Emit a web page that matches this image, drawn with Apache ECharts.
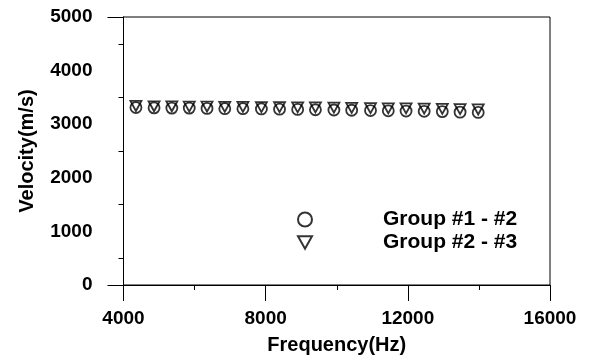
<!DOCTYPE html>
<html>
<head>
<meta charset="utf-8">
<script src="https://cdn.jsdelivr.net/npm/echarts@6/dist/echarts.min.js"></script>
<style>
  html, body { margin: 0; padding: 0; background: #fff; }
  #chart { width: 590px; height: 363px; }
</style>
</head>
<body>
<div id="chart"></div>
<script>
// Measured frequencies (Hz)
const frequency = [4350, 4860, 5360, 5850, 6350, 6850, 7360, 7880, 8390, 8900,
                   9400, 9920, 10420, 10950, 11450, 11950, 12460, 12970, 13470, 13980];
// Velocity between group #1 and #2 (m/s)
const group12 = [3310, 3305, 3300, 3300, 3295, 3290, 3290, 3285, 3280, 3275,
                 3270, 3265, 3260, 3255, 3250, 3245, 3240, 3235, 3225, 3220];
// Velocity between group #2 and #3 (m/s)
const group23 = [3340, 3335, 3335, 3330, 3330, 3325, 3325, 3320, 3320, 3315,
                 3315, 3310, 3305, 3300, 3295, 3295, 3290, 3285, 3280, 3275];
const seriesNames = ['Group #1 - #2', 'Group #2 - #3'];
const xTicks = [4000, 8000, 12000, 16000];
const yTicks = [0, 1000, 2000, 3000, 4000, 5000];

const FONT = "'Liberation Sans', Arial, Helvetica, sans-serif";
const downTriangle = 'path://M0,0 L10,0 L5,9 Z';
const plain = v => String(v);

const pairs = (xs, ys) => xs.map((x, i) => [x, ys[i]]);

const chart = echarts.init(document.getElementById('chart'), null, { renderer: 'canvas' });
chart.setOption({
  animation: false,
  backgroundColor: '#fff',
  grid: {
    left: 123.5, right: 40, top: 17, bottom: 78,
    show: true, borderColor: '#000', borderWidth: 1, backgroundColor: 'transparent'
  },
  legend: {
    orient: 'vertical',
    left: 292, top: 204,
    itemGap: 2,
    itemWidth: 14, itemHeight: 18,
    textStyle: {
      fontFamily: FONT, fontWeight: 'bold', fontSize: 21, color: '#000',
      padding: [0, 0, 0, 66]
    },
    data: [
      { name: seriesNames[0], icon: 'circle' },
      { name: seriesNames[1], icon: downTriangle }
    ]
  },
  xAxis: {
    type: 'value',
    min: xTicks[0], max: xTicks[xTicks.length - 1], interval: 4000,
    name: 'Frequency(Hz)', nameLocation: 'middle', nameGap: 50,
    nameTextStyle: { fontFamily: FONT, fontWeight: 'bold', fontSize: 20, color: '#000' },
    axisLine: { show: true, lineStyle: { color: '#000', width: 1 } },
    axisTick: { show: true, inside: false, length: 16, lineStyle: { color: '#000', width: 1 } },
    minorTick: { show: true, splitNumber: 2, length: 5, lineStyle: { color: '#000' } },
    splitLine: { show: false },
    axisLabel: { fontFamily: FONT, fontWeight: 'bold', fontSize: 19, color: '#000', margin: 24, formatter: plain }
  },
  yAxis: [
    {
      // Labelled velocity axis with half-step minor ticks
      type: 'value',
      min: yTicks[0], max: yTicks[yTicks.length - 1], interval: 1000,
      name: 'Velocity(m/s)', nameLocation: 'middle', nameGap: 86,
      nameTextStyle: { fontFamily: FONT, fontWeight: 'bold', fontSize: 20, color: '#000' },
      axisLine: { show: true, lineStyle: { color: '#000', width: 1 } },
      axisTick: { show: false },
      minorTick: { show: true, splitNumber: 2, length: 5, lineStyle: { color: '#000' } },
      splitLine: { show: false },
      axisLabel: { fontFamily: FONT, fontWeight: 'bold', fontSize: 19, color: '#000', margin: 31, formatter: plain }
    },
    {
      // Long end ticks at the bottom and top of the velocity range
      type: 'value', position: 'left', offset: 0,
      min: yTicks[0], max: yTicks[yTicks.length - 1], interval: 5000,
      axisLine: { show: true, lineStyle: { color: '#000', width: 1 } },
      axisTick: { show: true, inside: false, length: 16, lineStyle: { color: '#000', width: 1 } },
      axisLabel: { show: false },
      splitLine: { show: false }
    }
  ],
  series: [
    {
      name: seriesNames[0], type: 'scatter',
      data: pairs(frequency, group12),
      symbol: 'circle', symbolSize: 11,
      itemStyle: { color: '#fff', borderColor: '#000', borderWidth: 1.8 }
    },
    {
      name: seriesNames[1], type: 'scatter',
      data: pairs(frequency, group23),
      symbol: downTriangle, symbolSize: [11, 10],
      itemStyle: { color: 'rgba(255,255,255,0)', borderColor: '#000', borderWidth: 1.8 }
    }
  ]
});
</script>
</body>
</html>
